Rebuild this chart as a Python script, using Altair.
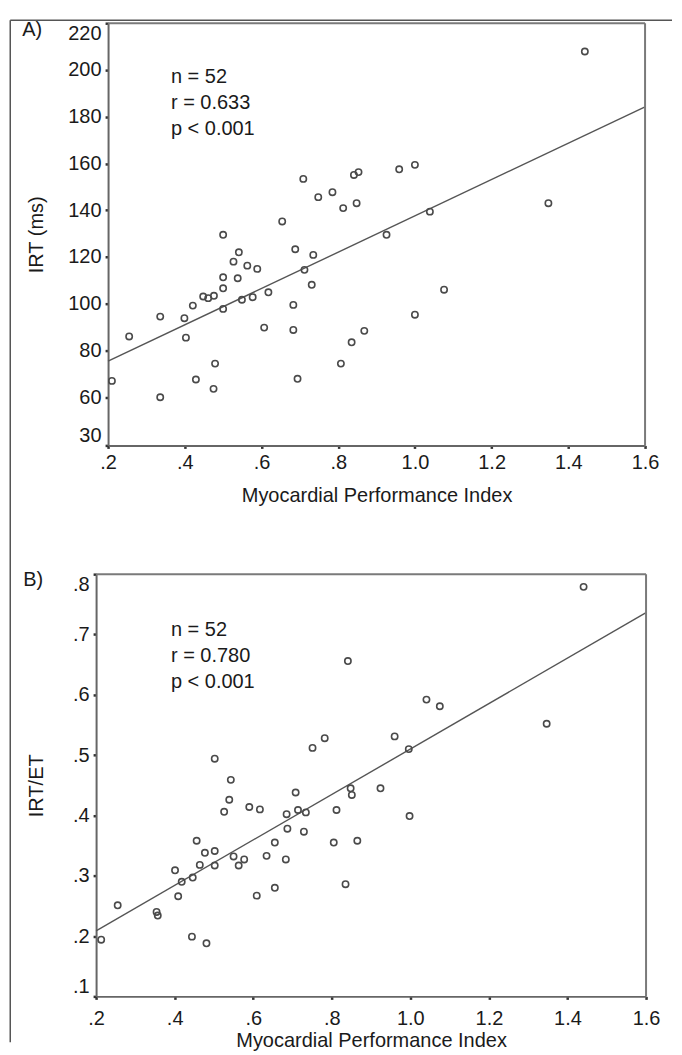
import altair as alt
import pandas as pd

FONT = "Liberation Sans"

# ---------------- data ----------------
mpi_a = [0.21, 0.255, 0.336, 0.336, 0.399, 0.403, 0.421, 0.429, 0.448, 0.461,
         0.476, 0.479, 0.475, 0.50, 0.50, 0.50, 0.50, 0.527, 0.541, 0.538,
         0.549, 0.563, 0.589, 0.577, 0.607, 0.618, 0.654, 0.688, 0.683, 0.683,
         0.694, 0.712, 0.735, 0.731, 0.807, 0.835, 0.813, 0.848, 0.709, 0.748,
         0.785, 0.841, 0.853, 0.959, 1.0, 1.443, 1.348, 1.039, 0.926, 1.076,
         1.0, 0.868]
irt = [67, 86, 94.5, 60, 93.8, 85.5, 99.2, 67.6, 103.1, 102.4,
       103.4, 74.4, 63.6, 129.5, 111.3, 106.6, 97.8, 118, 122, 110.9,
       101.7, 116.3, 114.9, 102.8, 89.8, 104.9, 135.2, 123.3, 99.5, 88.8,
       67.9, 114.5, 120.9, 108.1, 74.4, 83.5, 140.9, 143, 153.4, 145.6,
       147.7, 155.1, 156.3, 157.5, 159.4, 207.9, 143, 139.4, 129.5, 106,
       95.3, 88.4]

mpi_b = [0.213, 0.255, 0.354, 0.357, 0.401, 0.409, 0.418, 0.444, 0.446, 0.456,
         0.464, 0.477, 0.481, 0.502, 0.502, 0.526, 0.539, 0.543, 0.502, 0.550,
         0.563, 0.577, 0.590, 0.617, 0.609, 0.634, 0.655, 0.655, 0.683, 0.685,
         0.687, 0.708, 0.714, 0.734, 0.729, 0.751, 0.782, 0.841, 0.805, 0.812,
         0.835, 0.848, 0.851, 0.865, 0.924, 0.998, 1.441, 1.347, 1.041, 1.075,
         0.960, 0.996]
irt_et = [0.194, 0.251, 0.240, 0.234, 0.309, 0.266, 0.290, 0.199, 0.297, 0.358,
          0.318, 0.338, 0.188, 0.341, 0.317, 0.406, 0.426, 0.459, 0.494, 0.332,
          0.317, 0.327, 0.414, 0.410, 0.267, 0.333, 0.355, 0.280, 0.327, 0.402,
          0.378, 0.438, 0.409, 0.405, 0.373, 0.512, 0.528, 0.656, 0.355, 0.409,
          0.286, 0.445, 0.434, 0.358, 0.445, 0.399, 0.779, 0.552, 0.592, 0.581,
          0.531, 0.510]

x_ticks = [0.2, 0.4, 0.6, 0.8, 1.0, 1.2, 1.4, 1.6]
a_y_min = 39.4
a_y_ticks = [a_y_min, 60, 80, 100, 120, 140, 160, 180, 200, 220]
b_y_ticks = [0.1, 0.2, 0.3, 0.4, 0.5, 0.6, 0.7, 0.8]

stats_a = "n = 52\nr = 0.633\np < 0.001"
stats_b = "n = 52\nr = 0.780\np < 0.001"

df_a = pd.DataFrame({"mpi": mpi_a, "val": irt})
df_b = pd.DataFrame({"mpi": mpi_b, "val": irt_et})
one = pd.DataFrame({"k": [0]})

# ---------------- styling ----------------
AX = "#666666"
FR = "#7a7a7a"
TICK = "#333333"
PT = "#4a4a4a"
TXT = "#1a1a1a"

x_expr = ("datum.value < 1 ? replace(format(datum.value, '.1f'), '0.', '.') "
          ": format(datum.value, '.1f')")
yb_expr = "replace(format(datum.value, '.1f'), '0.', '.')"
ya_expr = "datum.value < 50 ? '30' : format(datum.value, 'd')"


def x_axis(pad, title_y):
    return alt.Axis(values=x_ticks, labelExpr=x_expr, title="Myocardial Performance Index",
                    grid=False, domainColor=AX, domainWidth=2, tickColor=TICK,
                    tickWidth=2.5, tickSize=3, labelPadding=pad, labelBaseline="top",
                    labelFlush=False, titleY=title_y, titleBaseline="alphabetic")


def y_axis(values, expr, title, title_x, offset=0):
    return alt.Axis(values=values, labelExpr=expr, title=title, grid=False,
                    domainColor=AX, domainWidth=2, tickColor=TICK, tickWidth=2.5,
                    tickSize=3, labelPadding=4, labelFlush=True, labelFlushOffset=0,
                    offset=offset, titleX=title_x, titleBaseline="middle",
                    titleAngle=270)


def panel(df, xscale, yscale, xax, yax, x0, x1, y0, y1, stats, letter, letter_y):
    x = alt.X("mpi:Q", scale=xscale, axis=xax)
    y = alt.Y("val:Q", scale=yscale, axis=yax)
    pts = alt.Chart(df).mark_point(shape="circle", filled=False, size=40,
                                   stroke=PT, strokeWidth=1.6, opacity=1).encode(x=x, y=y)
    reg = (alt.Chart(df).transform_regression("mpi", "val", extent=[x0, x1])
           .mark_line(color="#555555", strokeWidth=1.4).encode(x=x, y=y))
    top = alt.Chart(one).mark_rule(color=FR, strokeWidth=2).encode(
        x=alt.datum(x0), x2=alt.datum(x1), y=alt.datum(y1))
    right = alt.Chart(one).mark_rule(color=FR, strokeWidth=2).encode(
        x=alt.datum(x1), y=alt.datum(y0), y2=alt.datum(y1))
    txt = alt.Chart(one).mark_text(align="left", baseline="alphabetic", font=FONT,
                                   fontSize=20, color=TXT, lineBreak="\n",
                                   lineHeight=26).encode(
        x=alt.value(75), y=alt.value(letter_y[1]), text=alt.value(stats))
    let = alt.Chart(one).mark_text(align="left", baseline="alphabetic", font=FONT,
                                   fontSize=20, color=TXT).encode(
        x=alt.value(letter_y[2]), y=alt.value(letter_y[0]), text=alt.value(letter))
    return [reg, pts, top, right, txt, let]


# Panel A
xa = alt.Scale(domain=[0.2, 1.6], range=[12, 550], nice=False, zero=False)
ya = alt.Scale(domain=[a_y_min, 220], nice=False, zero=False)
layers_a = panel(df_a, xa, ya, x_axis(4.5, 56),
                 y_axis(a_y_ticks, ya_expr, "IRT (ms)", -72, offset=-12),
                 0.2, 1.6, a_y_min, 220, stats_a, "A)", (13, 60, -74))
# outer figure frame
frame_top = alt.Chart(one).mark_rule(color="#555555", strokeWidth=1.5).encode(
    x=alt.value(-86), x2=alt.value(577), y=alt.value(-3))
frame_left = alt.Chart(one).mark_rule(color="#555555", strokeWidth=1.5).encode(
    x=alt.value(-86), y=alt.value(-3), y2=alt.value(1021))
chart_a = alt.layer(*layers_a, frame_top, frame_left).properties(width=551, height=423)

# Panel B
xb = alt.Scale(domain=[0.2, 1.6], nice=False, zero=False)
yb = alt.Scale(domain=[0.1, 0.8], nice=False, zero=False)
layers_b = panel(df_b, xb, yb, x_axis(9.5, 50),
                 y_axis(b_y_ticks, yb_expr, "IRT/ET", -60),
                 0.2, 1.6, 0.1, 0.8, stats_b, "B)", (12, 62, -73))
chart_b = alt.layer(*layers_b).properties(width=551, height=423)

chart = (alt.vconcat(chart_a, chart_b, spacing=129, bounds="flush")
         .properties(padding={"left": 0.25, "top": 9.25, "right": 0, "bottom": 0})
         .configure_view(stroke="transparent")
         .configure_axis(labelFont=FONT, titleFont=FONT, labelFontSize=20,
                         titleFontSize=20, titleFontWeight="normal",
                         labelColor=TXT, titleColor=TXT))

chart.save("out.html", embed_options={"renderer": "svg", "actions": False})
